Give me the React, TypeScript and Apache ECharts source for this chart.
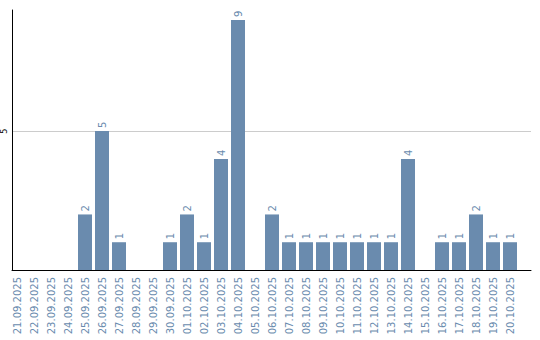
import React, { useEffect, useRef } from "react";
import * as echarts from "echarts";

const categories = [
  "21.09.2025", "22.09.2025", "23.09.2025", "24.09.2025", "25.09.2025",
  "26.09.2025", "27.09.2025", "28.09.2025", "29.09.2025", "30.09.2025",
  "01.10.2025", "02.10.2025", "03.10.2025", "04.10.2025", "05.10.2025",
  "06.10.2025", "07.10.2025", "08.10.2025", "09.10.2025", "10.10.2025",
  "11.10.2025", "12.10.2025", "13.10.2025", "14.10.2025", "15.10.2025",
  "16.10.2025", "17.10.2025", "18.10.2025", "19.10.2025", "20.10.2025",
];
const values = [0, 0, 0, 0, 2, 5, 1, 0, 0, 1, 2, 1, 4, 9, 0, 2, 1, 1, 1, 1, 1, 1, 1, 4, 0, 1, 1, 2, 1, 1];
const yMax = 9.36;
const yInterval = 5;

const BLUE = "#6a8bae";
const FONT = "DejaVu Sans";

export default function App() {
  const ref = useRef<HTMLDivElement>(null);
  useEffect(() => {
    if (!ref.current) return;
    const chart = echarts.init(ref.current, null, { renderer: "svg" });
    chart.setOption({
      animation: false,
      grid: [
        { left: 11, right: 9, top: 10, bottom: 70 },
        { left: 8.5, right: 21.5, top: 10, bottom: 70 },
      ],
      xAxis: [
        {
          type: "value",
          gridIndex: 0,
          min: 0,
          max: 1,
          axisLine: { show: true, lineStyle: { color: "#000", width: 1 } },
          axisTick: { show: false },
          axisLabel: { show: false },
          splitLine: { show: false },
        },
        {
          type: "category",
          gridIndex: 1,
          data: categories,
          axisLine: { show: false },
          axisTick: { show: false },
          axisLabel: {
            interval: 0,
            rotate: 90,
            margin: 7,
            color: BLUE,
            fontFamily: FONT,
            fontSize: 10,
          },
        },
      ],
      yAxis: [
        {
          type: "value",
          gridIndex: 0,
          min: 0,
          max: yMax,
          interval: yInterval,
          axisLine: { show: true, lineStyle: { color: "#000", width: 1 } },
          axisTick: { show: false },
          axisLabel: {
            showMinLabel: false,
            showMaxLabel: false,
            rotate: 90,
            margin: 4,
            color: "#000",
            fontFamily: FONT,
            fontSize: 8,
          },
          splitLine: {
            show: true,
            showMinLine: false,
            showMaxLine: false,
            lineStyle: { color: "#cccccc", width: 1 },
          },
        },
        {
          type: "value",
          gridIndex: 1,
          min: 0,
          max: yMax,
          show: false,
          splitLine: { show: false },
        },
      ],
      series: [
        {
          type: "bar",
          xAxisIndex: 1,
          yAxisIndex: 1,
          data: values,
          barWidth: 14,
          itemStyle: { color: BLUE },
          label: {
            show: true,
            position: "top",
            rotate: 90,
            align: "left",
            verticalAlign: "middle",
            distance: 3,
            color: BLUE,
            fontFamily: FONT,
            fontSize: 10,
            formatter: (p: any) => (p.value ? String(p.value) : ""),
          },
        },
      ],
    });
    return () => chart.dispose();
  }, []);
  return (
    <div
      ref={ref}
      style={{ position: "fixed", left: 0, top: 0, width: 540, height: 340, background: "#fff" }}
    />
  );
}
